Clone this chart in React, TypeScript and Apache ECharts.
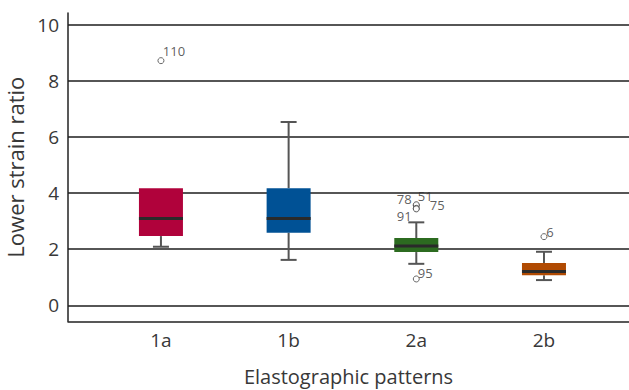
import React, { useEffect, useRef } from "react";
import * as echarts from "echarts";

// ---- data ----
const categories = ["1a", "1b", "2a", "2b"];
const lowerWhisker = [2.09, 1.62, 1.48, 0.9];
const q1 = [2.47, 2.59, 1.9, 1.07];
const median = [3.1, 3.1, 2.12, 1.21];
const q3 = [4.18, 4.18, 2.4, 1.51];
const upperWhisker = [4.18, 6.54, 2.96, 1.91];

// outliers: category index (1-based), value, case id
const outlierCat = [1, 3, 3, 3, 3, 3, 4];
const outlierVal = [8.73, 3.56, 3.59, 3.46, 3.44, 0.94, 2.45];
const outlierId = ["110", "78", "51", "75", "91", "95", "6"];

const yTickLabels = [0, 2, 4, 6, 8, 10];

// ---- styles ----
const boxColors = ["#B0023B", "#005195", "#2C6B20", "#B04A02"];
const labelOffsets: Record<string, [number, number]> = {
  "110": [13, -10],
  "78": [-12, -7],
  "51": [9, -9],
  "75": [21, -3],
  "91": [-12, 7],
  "95": [9, -6],
  "6": [6, -5],
};
const FONT = "'Open Sans', 'Noto Sans', sans-serif";

export default function App() {
  const ref = useRef<HTMLDivElement>(null);
  useEffect(() => {
    if (!ref.current) return;
    const chart = echarts.init(ref.current, undefined, { renderer: "svg" });
    const boxData = categories.map((_, i) => [
      i + 1,
      lowerWhisker[i],
      q1[i],
      median[i],
      q3[i],
      upperWhisker[i],
    ]);
    const outlierData = outlierVal.map((v, i) => ({
      name: outlierId[i],
      value: [outlierCat[i], v],
      label: { offset: labelOffsets[outlierId[i]] },
    }));
    chart.setOption({
      animation: false,
      textStyle: { fontFamily: FONT },
      grid: {
        left: 68,
        right: 0,
        top: 13,
        bottom: 68.7,
        containLabel: false,
        outerBoundsMode: "none",
      },
      xAxis: {
        type: "value",
        min: 0.272,
        max: 4.666,
        axisLine: { show: true, onZero: false, lineStyle: { color: "#222", width: 1.5 } },
        axisTick: { show: false },
        splitLine: { show: false },
        axisLabel: {
          customValues: [1, 2, 3, 4],
          formatter: (v: number) => categories[Math.round(v) - 1] ?? "",
          fontSize: 19,
          color: "#383838",
          margin: 9,
          fontFamily: FONT,
        },
        name: "Elastographic patterns",
        nameLocation: "middle",
        nameGap: 45,
        nameTextStyle: { fontSize: 20, color: "#383838", fontFamily: FONT },
      },
      yAxis: {
        type: "value",
        min: -0.571,
        max: 10.43,
        axisLine: { show: true, lineStyle: { color: "#222", width: 1.5 } },
        axisTick: { show: false },
        axisLabel: {
          showMinLabel: false,
          showMaxLabel: false,
          fontSize: 19,
          color: "#383838",
          margin: 9,
          fontFamily: FONT,
          formatter: (v: number) => (yTickLabels.includes(v) ? String(v) : ""),
        },
        splitLine: {
          show: true,
          showMinLine: false,
          showMaxLine: false,
          lineStyle: { color: "#1e1e1e", width: 1.5 },
        },
        name: "Lower strain ratio",
        nameLocation: "middle",
        nameGap: 35,
        nameTextStyle: { fontSize: 22, color: "#383838", fontFamily: FONT },
      },
      series: [
        {
          type: "custom",
          data: boxData,
          encode: { x: 0, y: [1, 2, 3, 4, 5] },
          renderItem: (params: any, api: any) => {
            const x = api.value(0);
            const pLow = api.coord([x, api.value(1)]);
            const pQ1 = api.coord([x, api.value(2)]);
            const pMed = api.coord([x, api.value(3)]);
            const pQ3 = api.coord([x, api.value(4)]);
            const pHigh = api.coord([x, api.value(5)]);
            const cx = pMed[0];
            const bw = 44;
            const cw = 16;
            const wStyle = { stroke: "#555", lineWidth: 2 };
            const children: any[] = [];
            if (pLow[1] > pQ1[1]) {
              children.push(
                { type: "line", shape: { x1: cx, y1: pLow[1], x2: cx, y2: pQ1[1] }, style: wStyle },
                { type: "line", shape: { x1: cx - cw / 2, y1: pLow[1], x2: cx + cw / 2, y2: pLow[1] }, style: wStyle }
              );
            }
            if (pHigh[1] < pQ3[1]) {
              children.push(
                { type: "line", shape: { x1: cx, y1: pQ3[1], x2: cx, y2: pHigh[1] }, style: wStyle },
                { type: "line", shape: { x1: cx - cw / 2, y1: pHigh[1], x2: cx + cw / 2, y2: pHigh[1] }, style: wStyle }
              );
            }
            children.push(
              {
                type: "rect",
                shape: { x: cx - bw / 2, y: pQ3[1], width: bw, height: pQ1[1] - pQ3[1] },
                style: { fill: boxColors[params.dataIndex] },
              },
              {
                type: "line",
                shape: { x1: cx - bw / 2, y1: pMed[1], x2: cx + bw / 2, y2: pMed[1] },
                style: { stroke: "#2a2a2a", lineWidth: 3 },
              }
            );
            return { type: "group", children };
          },
        },
        {
          type: "scatter",
          data: outlierData,
          symbol: "circle",
          symbolSize: 6,
          itemStyle: { color: "#fff", borderColor: "#444", borderWidth: 1 },
          label: {
            show: true,
            position: "inside",
            formatter: (p: any) => p.name,
            fontSize: 13,
            color: "#333",
            fontFamily: FONT,
          },
          z: 5,
        },
      ],
    });
    return () => chart.dispose();
  }, []);
  return (
    <div
      ref={ref}
      style={{ position: "absolute", left: 0, top: 0, width: 629, height: 390, background: "#fff" }}
    />
  );
}
